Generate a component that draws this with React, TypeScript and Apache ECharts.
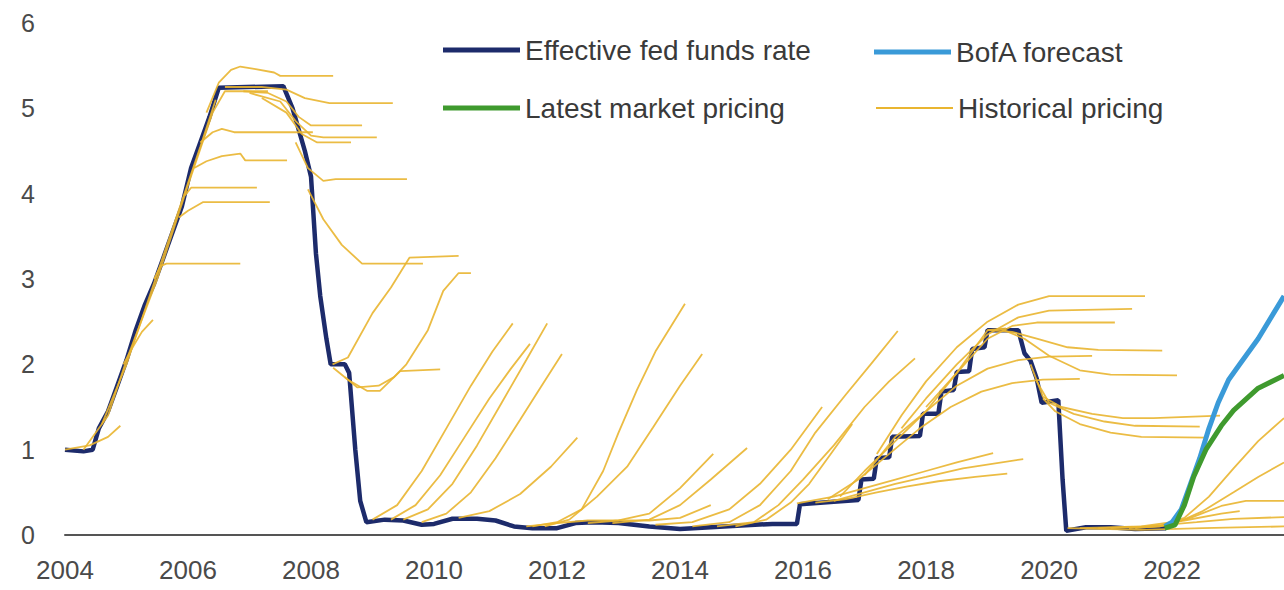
import React, { useEffect, useRef } from "react";
import * as echarts from "echarts";

type Pt = [number, number];

const X_MIN = 2004;
const X_MAX = 2023.82;
const X_TICK_LAST = 2022;

const EFFR: Pt[] = [
  [2004.0, 1.0], [2004.3, 0.98], [2004.45, 1.0], [2004.55, 1.25], [2004.7, 1.45], [2004.85, 1.75],
  [2005.0, 2.05], [2005.15, 2.4], [2005.3, 2.7], [2005.45, 2.95], [2005.6, 3.25], [2005.75, 3.55],
  [2005.9, 3.85], [2006.05, 4.3], [2006.2, 4.6], [2006.35, 4.9], [2006.5, 5.24], [2007.55, 5.26],
  [2007.7, 5.0], [2007.8, 4.75], [2007.9, 4.5], [2008.0, 4.2], [2008.08, 3.3], [2008.15, 2.8],
  [2008.25, 2.3], [2008.32, 2.0], [2008.55, 2.0], [2008.62, 1.9], [2008.72, 1.0], [2008.8, 0.4],
  [2008.9, 0.15], [2009.2, 0.18], [2009.5, 0.17], [2009.8, 0.12], [2010.0, 0.13], [2010.3, 0.19],
  [2010.7, 0.19], [2011.0, 0.17], [2011.3, 0.1], [2011.6, 0.08], [2012.0, 0.08], [2012.3, 0.14],
  [2012.6, 0.15], [2013.0, 0.14], [2013.5, 0.1], [2014.0, 0.07], [2014.5, 0.09], [2015.0, 0.11],
  [2015.5, 0.13], [2015.9, 0.13], [2015.95, 0.36], [2016.5, 0.39], [2016.9, 0.41], [2016.95, 0.65],
  [2017.15, 0.66], [2017.2, 0.9], [2017.4, 0.91], [2017.45, 1.15], [2017.9, 1.16], [2017.95, 1.42],
  [2018.2, 1.42], [2018.25, 1.68], [2018.45, 1.7], [2018.5, 1.91], [2018.7, 1.92], [2018.75, 2.18],
  [2018.95, 2.2], [2019.0, 2.4], [2019.5, 2.4], [2019.6, 2.13], [2019.7, 2.04], [2019.8, 1.83],
  [2019.88, 1.55], [2020.15, 1.58], [2020.22, 0.65], [2020.28, 0.05], [2020.6, 0.09], [2021.0, 0.09],
  [2021.4, 0.07], [2021.9, 0.08],
];

const BOFA: Pt[] = [
  [2021.88, 0.1], [2022.0, 0.15], [2022.15, 0.3], [2022.3, 0.6], [2022.45, 0.9], [2022.6, 1.25],
  [2022.75, 1.55], [2022.92, 1.82], [2023.1, 2.0], [2023.4, 2.3], [2023.82, 2.8],
];

const MARKET: Pt[] = [
  [2021.88, 0.08], [2022.05, 0.12], [2022.2, 0.35], [2022.35, 0.68], [2022.55, 1.0], [2022.8, 1.28],
  [2023.0, 1.46], [2023.4, 1.72], [2023.82, 1.87],
];

const HISTORICAL: Pt[][] = [
  [[2004.0, 1.0], [2004.4, 1.05], [2004.7, 1.15], [2004.9, 1.28]],
  [[2004.95, 2.0], [2005.1, 2.2], [2005.25, 2.38], [2005.43, 2.52]],
  [[2005.45, 3.0], [2005.55, 3.15], [2005.65, 3.18], [2006.85, 3.18]],
  [[2005.85, 3.72], [2006.0, 3.8], [2006.24, 3.9], [2007.33, 3.9]],
  [[2005.95, 3.98], [2006.05, 4.07], [2007.12, 4.07]],
  [[2006.1, 4.3], [2006.3, 4.38], [2006.55, 4.44], [2006.85, 4.47], [2006.93, 4.39], [2007.61, 4.39]],
  [[2006.2, 4.6], [2006.4, 4.72], [2006.55, 4.76], [2006.75, 4.72], [2008.03, 4.72]],
  [[2006.3, 4.95], [2006.5, 5.3], [2006.7, 5.45], [2006.85, 5.49], [2007.1, 5.46], [2007.4, 5.42], [2007.5, 5.38], [2008.36, 5.38]],
  [[2006.6, 5.25], [2007.2, 5.25], [2007.6, 5.22], [2007.9, 5.12], [2008.3, 5.06], [2009.33, 5.06]],
  [[2006.9, 5.2], [2007.3, 5.18], [2007.6, 5.08], [2007.8, 4.9], [2008.0, 4.8], [2008.83, 4.8]],
  [[2007.0, 5.18], [2007.5, 5.08], [2007.75, 4.85], [2008.0, 4.68], [2008.2, 4.66], [2009.07, 4.66]],
  [[2007.2, 5.12], [2007.6, 4.95], [2007.85, 4.7], [2008.1, 4.6], [2008.65, 4.6]],
  [[2007.75, 4.6], [2007.95, 4.3], [2008.2, 4.15], [2008.4, 4.17], [2009.56, 4.17]],
  [[2007.95, 4.05], [2008.2, 3.7], [2008.5, 3.4], [2008.83, 3.18], [2009.82, 3.18]],
  [[2008.35, 2.0], [2008.6, 2.08], [2009.0, 2.6], [2009.3, 2.9], [2009.6, 3.25], [2010.4, 3.27]],
  [[2008.55, 1.85], [2008.75, 1.73], [2009.1, 1.75], [2009.35, 1.85], [2009.55, 2.0], [2009.9, 2.4], [2010.15, 2.86], [2010.4, 3.07], [2010.6, 3.07]],
  [[2008.36, 1.96], [2008.6, 1.82], [2008.91, 1.69], [2009.12, 1.69], [2009.45, 1.92], [2010.1, 1.94]],
  [[2009.0, 0.18], [2009.4, 0.35], [2009.8, 0.75], [2010.2, 1.25], [2010.6, 1.75], [2010.95, 2.15], [2011.28, 2.48]],
  [[2009.3, 0.18], [2009.7, 0.35], [2010.1, 0.7], [2010.5, 1.15], [2010.9, 1.6], [2011.25, 1.95], [2011.56, 2.24]],
  [[2009.5, 0.18], [2009.9, 0.3], [2010.3, 0.6], [2010.7, 1.05], [2011.1, 1.55], [2011.5, 2.05], [2011.84, 2.48]],
  [[2009.8, 0.15], [2010.2, 0.25], [2010.6, 0.5], [2011.0, 0.9], [2011.4, 1.35], [2011.75, 1.75], [2012.08, 2.12]],
  [[2010.4, 0.2], [2010.9, 0.28], [2011.4, 0.48], [2011.9, 0.8], [2012.33, 1.14]],
  [[2011.6, 0.1], [2012.0, 0.15], [2012.4, 0.3], [2012.75, 0.75], [2013.0, 1.2], [2013.3, 1.7], [2013.6, 2.15], [2014.08, 2.71]],
  [[2011.8, 0.1], [2012.2, 0.18], [2012.65, 0.45], [2013.14, 0.8], [2013.56, 1.26], [2014.0, 1.75], [2014.36, 2.12]],
  [[2012.5, 0.14], [2013.0, 0.17], [2013.5, 0.25], [2014.0, 0.55], [2014.54, 0.95]],
  [[2012.9, 0.14], [2013.5, 0.18], [2014.0, 0.35], [2014.5, 0.65], [2015.09, 1.02]],
  [[2013.6, 0.12], [2014.2, 0.15], [2014.8, 0.3], [2015.3, 0.6], [2015.8, 1.0], [2016.31, 1.5]],
  [[2014.2, 0.1], [2014.8, 0.15], [2015.3, 0.35], [2015.8, 0.75], [2016.2, 1.2], [2016.7, 1.65], [2017.1, 2.0], [2017.54, 2.39]],
  [[2014.6, 0.1], [2015.2, 0.15], [2015.6, 0.35], [2016.0, 0.65], [2016.5, 1.05], [2017.0, 1.5], [2017.4, 1.8], [2017.82, 2.07]],
  [[2014.9, 0.1], [2015.4, 0.18], [2015.8, 0.38], [2016.1, 0.6], [2016.45, 0.95], [2016.8, 1.3]],
  [[2015.9, 0.37], [2016.5, 0.45], [2017.0, 0.55], [2017.5, 0.65], [2018.0, 0.75], [2018.5, 0.85], [2019.09, 0.96]],
  [[2016.2, 0.38], [2016.7, 0.42], [2017.2, 0.5], [2017.7, 0.57], [2018.2, 0.63], [2018.8, 0.68], [2019.32, 0.72]],
  [[2016.5, 0.4], [2017.0, 0.5], [2017.5, 0.6], [2018.0, 0.68], [2018.6, 0.78], [2019.58, 0.89]],
  [[2016.6, 0.45], [2017.0, 0.75], [2017.5, 1.1], [2018.0, 1.45], [2018.5, 1.75], [2019.0, 1.95], [2019.5, 2.05], [2020.0, 2.09], [2020.7, 2.1]],
  [[2016.4, 0.42], [2016.9, 0.65], [2017.4, 0.95], [2017.9, 1.25], [2018.4, 1.5], [2018.9, 1.68], [2019.4, 1.78], [2019.9, 1.82], [2020.5, 1.83]],
  [[2017.2, 0.95], [2017.6, 1.4], [2018.0, 1.8], [2018.5, 2.2], [2019.0, 2.5], [2019.5, 2.7], [2020.0, 2.8], [2021.56, 2.8]],
  [[2017.6, 1.25], [2018.0, 1.6], [2018.5, 2.0], [2019.0, 2.35], [2019.5, 2.55], [2020.0, 2.63], [2021.35, 2.65]],
  [[2018.0, 1.5], [2018.5, 1.9], [2019.0, 2.3], [2019.4, 2.45], [2019.8, 2.49], [2021.07, 2.49]],
  [[2019.0, 2.4], [2019.4, 2.38], [2019.8, 2.3], [2020.3, 2.2], [2020.8, 2.17], [2021.84, 2.16]],
  [[2019.2, 2.42], [2019.6, 2.3], [2020.0, 2.1], [2020.5, 1.93], [2021.0, 1.88], [2022.08, 1.87]],
  [[2019.7, 2.0], [2019.9, 1.62], [2020.2, 1.5], [2020.7, 1.42], [2021.2, 1.37], [2021.7, 1.37], [2022.78, 1.4]],
  [[2019.8, 1.8], [2020.0, 1.55], [2020.4, 1.42], [2020.9, 1.33], [2021.4, 1.28], [2022.45, 1.27]],
  [[2019.9, 1.6], [2020.1, 1.45], [2020.5, 1.3], [2021.0, 1.2], [2021.5, 1.15], [2022.55, 1.14]],
  [[2021.3, 0.08], [2021.8, 0.1], [2022.2, 0.2], [2022.6, 0.45], [2023.0, 0.78], [2023.4, 1.1], [2023.82, 1.37]],
  [[2021.4, 0.08], [2022.0, 0.12], [2022.5, 0.28], [2023.0, 0.5], [2023.4, 0.68], [2023.82, 0.85]],
  [[2021.0, 0.08], [2021.8, 0.1], [2022.3, 0.2], [2022.8, 0.34], [2023.2, 0.4], [2023.82, 0.4]],
  [[2020.8, 0.08], [2021.6, 0.1], [2022.4, 0.15], [2023.0, 0.19], [2023.82, 0.21]],
  [[2020.5, 0.08], [2021.5, 0.1], [2022.2, 0.17], [2022.8, 0.25], [2023.1, 0.28]],
  [[2020.3, 0.08], [2021.5, 0.06], [2022.5, 0.08], [2023.82, 0.1]],
  [[2004.3, 1.0], [2004.7, 1.4], [2005.0, 2.05], [2005.5, 3.0], [2006.0, 4.1], [2006.4, 4.95], [2006.6, 5.2], [2007.3, 5.2]],
  [[2004.6, 1.3], [2005.0, 2.0], [2005.4, 2.85], [2005.8, 3.7], [2006.2, 4.55], [2006.45, 5.1]],
  [[2017.0, 0.7], [2017.5, 1.15], [2018.0, 1.45], [2018.5, 1.9], [2019.0, 2.4], [2019.3, 2.42]],
  [[2011.5, 0.1], [2012.0, 0.14], [2012.5, 0.17], [2013.0, 0.17], [2013.5, 0.17], [2014.0, 0.2], [2014.5, 0.35]],
];

const NAME_EFFR = "Effective fed funds rate";
const NAME_MARKET = "Latest market pricing";
const NAME_BOFA = "BofA forecast";
const NAME_HIST = "Historical pricing";

const C_EFFR = "#1d2b6b";
const C_BOFA = "#3a9ad8";
const C_MARKET = "#3f9a2e";
const C_HIST = "#e9b530";

const FONT = "'Liberation Sans', 'DejaVu Sans', sans-serif";

export default function App() {
  const ref = useRef<HTMLDivElement>(null);
  useEffect(() => {
    if (!ref.current) return;
    const chart = echarts.init(ref.current, null, { renderer: "svg" });
    const legendText = {
      color: "#3a3a3a",
      fontSize: 28,
      fontFamily: FONT,
      lineHeight: 30,
    };
    const legendBase = {
      orient: "horizontal" as const,
      padding: 0,
      itemWidth: 77,
      itemHeight: 5,
      icon: "rect",
      selectedMode: false,
      textStyle: legendText,
    };
    const histSeries = HISTORICAL.map((curve) => ({
      name: NAME_HIST,
      type: "line",
      data: curve,
      showSymbol: false,
      symbol: "none",
      silent: true,
      z: 3,
      color: C_HIST,
      itemStyle: { color: C_HIST },
      lineStyle: { color: C_HIST, width: 1.8, opacity: 0.9 },
    }));
    chart.setOption({
      animation: false,
      backgroundColor: "#ffffff",
      grid: { left: 65, right: 0, top: 23, bottom: 55, containLabel: false },
      legend: [
        { ...legendBase, data: [NAME_EFFR], left: 443, top: 35 },
        { ...legendBase, data: [NAME_MARKET], left: 443, top: 93 },
        { ...legendBase, data: [NAME_BOFA], left: 874, top: 37 },
        { ...legendBase, itemHeight: 2, data: [NAME_HIST], left: 876, top: 93 },
      ],
      xAxis: {
        type: "value",
        min: X_MIN,
        max: X_MAX,
        interval: 2,
        axisLine: { show: true, lineStyle: { color: "#555555", width: 2 } },
        axisTick: { show: false },
        splitLine: { show: false },
        axisLabel: {
          show: true,
          showMaxLabel: false,
          margin: 22,
          fontSize: 26,
          color: "#4a4a4a",
          fontFamily: FONT,
          formatter: (v: number) => (v % 2 === 0 && v <= X_TICK_LAST ? String(v) : ""),
        },
      },
      yAxis: {
        type: "value",
        min: 0,
        max: 6,
        interval: 1,
        axisLine: { show: false },
        axisTick: { show: false },
        splitLine: { show: false },
        axisLabel: {
          margin: 30,
          fontSize: 25,
          color: "#4a4a4a",
          fontFamily: FONT,
        },
      },
      series: [
        {
          name: NAME_EFFR,
          type: "line",
          data: EFFR,
          showSymbol: false,
          symbol: "none",
          silent: true,
          z: 2,
          color: C_EFFR,
          itemStyle: { color: C_EFFR },
          lineStyle: { color: C_EFFR, width: 4.5 },
        },
        ...histSeries,
        {
          name: NAME_BOFA,
          type: "line",
          data: BOFA,
          showSymbol: false,
          symbol: "none",
          silent: true,
          z: 4,
          color: C_BOFA,
          itemStyle: { color: C_BOFA },
          lineStyle: { color: C_BOFA, width: 5 },
        },
        {
          name: NAME_MARKET,
          type: "line",
          data: MARKET,
          showSymbol: false,
          symbol: "none",
          silent: true,
          z: 4,
          color: C_MARKET,
          itemStyle: { color: C_MARKET },
          lineStyle: { color: C_MARKET, width: 5 },
        },
      ],
    });
    return () => chart.dispose();
  }, []);
  return (
    <div
      ref={ref}
      style={{ position: "absolute", left: 0, top: 0, width: 1284, height: 590 }}
    />
  );
}
